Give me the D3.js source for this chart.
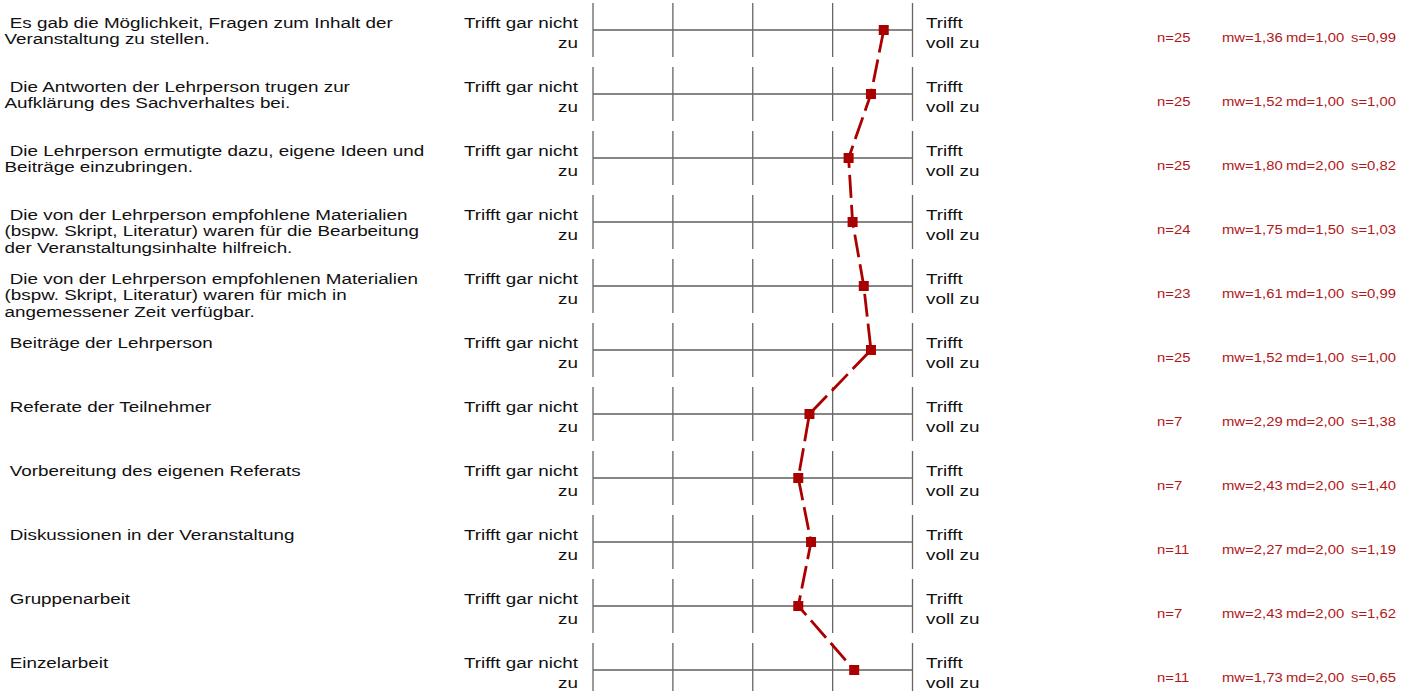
<!DOCTYPE html>
<html lang="de">
<head>
<meta charset="utf-8">
<title>Profillinie</title>
<script src="https://cdn.jsdelivr.net/npm/d3@7"></script>
<style>
  html, body { margin: 0; padding: 0; background: #fff; }
  svg { display: block; }
  text { font-family: "Liberation Sans", Arial, sans-serif; white-space: pre; }
</style>
</head>
<body>
<svg id="chart" width="1415" height="691"></svg>
<script>
// Items (one entry per row, each line of the wrapped question text)
const questions = [
  [" Es gab die Möglichkeit, Fragen zum Inhalt der", "Veranstaltung zu stellen."],
  [" Die Antworten der Lehrperson trugen zur", "Aufklärung des Sachverhaltes bei."],
  [" Die Lehrperson ermutigte dazu, eigene Ideen und", "Beiträge einzubringen."],
  [" Die von der Lehrperson empfohlene Materialien", "(bspw. Skript, Literatur) waren für die Bearbeitung", "der Veranstaltungsinhalte hilfreich."],
  [" Die von der Lehrperson empfohlenen Materialien", "(bspw. Skript, Literatur) waren für mich in", "angemessener Zeit verfügbar."],
  [" Beiträge der Lehrperson"],
  [" Referate der Teilnehmer"],
  [" Vorbereitung des eigenen Referats"],
  [" Diskussionen in der Veranstaltung"],
  [" Gruppenarbeit"],
  [" Einzelarbeit"]
];

// Statistics per item
const counts   = [25, 25, 25, 24, 23, 25, 7, 7, 11, 7, 11];
const means    = [1.36, 1.52, 1.80, 1.75, 1.61, 1.52, 2.29, 2.43, 2.27, 2.43, 1.73];
const medians  = [1.00, 1.00, 2.00, 1.50, 1.00, 1.00, 2.00, 2.00, 2.00, 2.00, 2.00];
const stdDevs  = [0.99, 1.00, 0.82, 1.03, 0.99, 1.00, 1.38, 1.40, 1.19, 1.62, 0.65];

// Answer scale (1 = trifft voll zu ... 5 = trifft gar nicht zu)
const scaleSteps = [1, 2, 3, 4, 5];
const leftPole  = ["Trifft gar nicht", "zu"];
const rightPole = ["Trifft", "voll zu"];

const fmt = v => v.toFixed(2).replace(".", ",");
const lineColor = "#aa0000";
const statColor = "#b01818";
const textColor = "#111";

// text is set in a wide face: a horizontal stretch on each label group
const labelFont = 14.5, labelStretch = 1.30, labelGap = 16.5;
const statFont = 13.5, statStretch = 1.1;

const svg = d3.select("#chart");

const x = d3.scaleLinear().domain([1, 5]).range([912.5, 593]);
const y = d3.scalePoint().domain(d3.range(questions.length)).range([30, 670]);

const rows = svg.append("g").selectAll("g.row")
  .data(questions.map((q, i) => ({
    i, lines: q, n: counts[i], mw: means[i], md: medians[i], s: stdDevs[i]
  })))
  .join("g")
  .attr("class", "row")
  .attr("transform", d => `translate(0,${y(d.i)})`);

// helper: a stretched multi-line text block anchored at (x0, 0) of the row
function block(sel, x0, anchor, lines, lineGap, font, stretch, color, firstY) {
  const g = sel.append("g").attr("transform", `translate(${x0},0) scale(${stretch},1)`);
  g.append("text")
    .attr("font-size", font)
    .attr("text-anchor", anchor)
    .attr("fill", color)
    .selectAll("tspan")
    .data(lines)
    .join("tspan")
    .attr("x", 0)
    .attr("y", (l, k) => firstY + k * lineGap)
    .text(l => l);
}

// Question text
rows.each(function (d) {
  block(d3.select(this), 4.5, "start", d.lines, labelGap, labelFont, labelStretch, textColor, -2);
});

// Scale: horizontal base line and vertical step ticks
rows.append("line")
  .attr("x1", x(5)).attr("x2", x(1))
  .attr("y1", 0).attr("y2", 0)
  .attr("stroke", "#5e5e5e").attr("stroke-width", 1.3);

rows.selectAll("line.step")
  .data(scaleSteps)
  .join("line")
  .attr("class", "step")
  .attr("x1", v => x(v)).attr("x2", v => x(v))
  .attr("y1", -27).attr("y2", 27)
  .attr("stroke", "#666").attr("stroke-width", 1.3);

// Pole labels
rows.each(function () {
  const r = d3.select(this);
  block(r, 578, "end", leftPole, 20, labelFont, labelStretch, textColor, -2);
  block(r, 926, "start", rightPole, 20, labelFont, labelStretch, textColor, -2);
});

// Statistics columns
const statCols = [
  { x: 1157, f: d => `n=${d.n}` },
  { x: 1222, f: d => `mw=${fmt(d.mw)}` },
  { x: 1286, f: d => `md=${fmt(d.md)}` },
  { x: 1351, f: d => `s=${fmt(d.s)}` }
];
rows.each(function (d) {
  const r = d3.select(this);
  statCols.forEach(c => block(r, c.x, "start", [c.f(d)], 0, statFont, statStretch, statColor, 12));
});

// Profile line through the means
const profile = means.map((m, i) => [x(m), y(i)]);
svg.append("path")
  .attr("d", d3.line()(profile))
  .attr("fill", "none")
  .attr("stroke", lineColor)
  .attr("stroke-width", 2.8)
  .attr("stroke-dasharray", "23,7");

svg.append("g").selectAll("rect")
  .data(profile)
  .join("rect")
  .attr("x", p => p[0] - 5)
  .attr("y", p => p[1] - 5)
  .attr("width", 10).attr("height", 10)
  .attr("fill", lineColor);
</script>
</body>
</html>
